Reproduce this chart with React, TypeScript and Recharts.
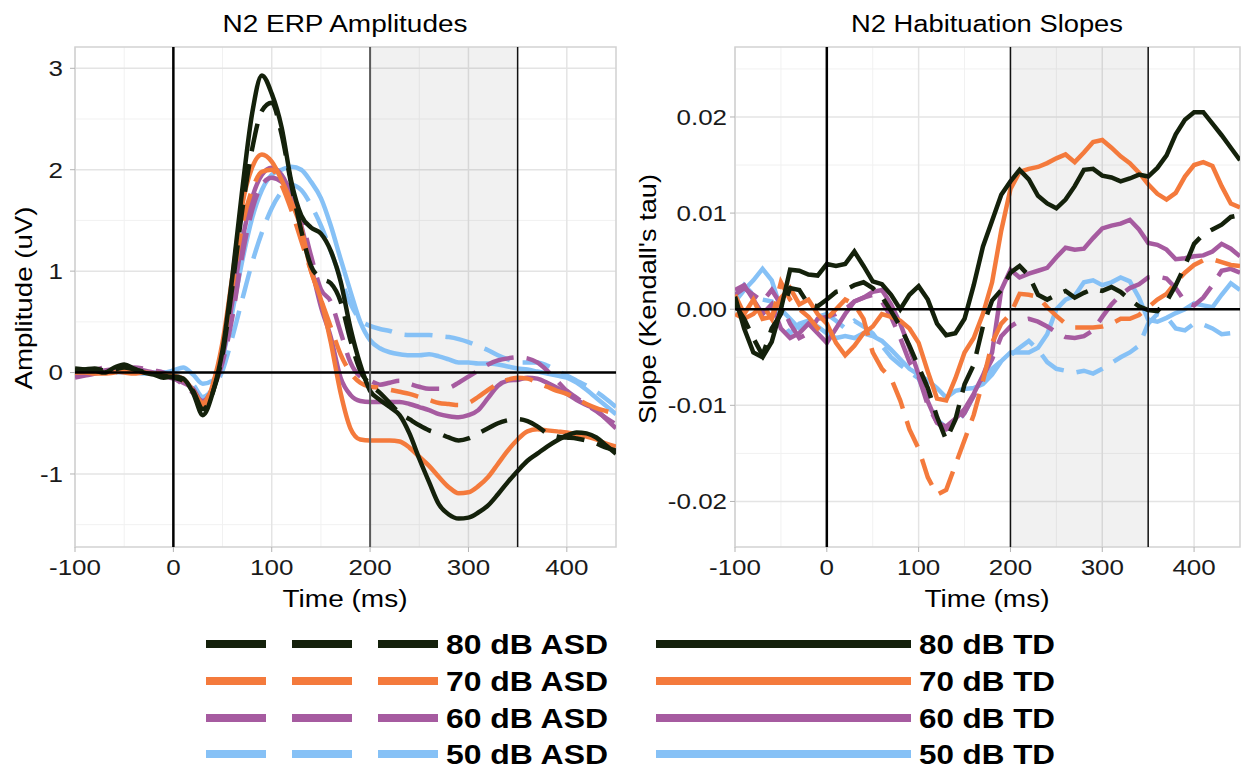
import React from 'react';
import { LineChart, Line, XAxis, YAxis, CartesianGrid, ReferenceLine, ReferenceArea } from 'recharts';

const FONT = '"Liberation Sans", Arial, sans-serif';
// glyphs in this figure run a little wider than plain Arial
const STRETCH = 1.18;

const times = [
  -100, -90, -80, -70, -60, -50, -40, -30, -20, -10,
  0, 10, 20, 30, 40, 50, 60, 70, 80, 90,
  100, 110, 120, 130, 140, 150, 160, 170, 180, 190,
  200, 210, 220, 230, 240, 250, 260, 270, 280, 290,
  300, 310, 320, 330, 340, 350, 360, 370, 380, 390,
  400, 410, 420, 430, 440, 450,
];

// ---- N2 ERP amplitudes (uV) ----
const erp80Td = [
  0.04, 0.03, 0.02, 0.0, 0.05, 0.08, 0.04, 0.0, -0.02, -0.05,
  -0.04, -0.06, -0.2, -0.42, -0.2, 0.22, 0.95, 1.8, 2.55, 2.93,
  2.75, 2.42, 1.88, 1.55, 1.43, 1.37, 1.2, 0.9, 0.44, 0.08,
  -0.18, -0.27, -0.34, -0.42, -0.6, -0.85, -1.08, -1.3, -1.4, -1.44,
  -1.43, -1.38, -1.31, -1.2, -1.08, -0.97, -0.87, -0.8, -0.73, -0.67,
  -0.62, -0.59, -0.6, -0.64, -0.72, -0.8,
];
const erp80Asd = [
  0.02, 0.03, 0.04, 0.02, 0.03, 0.05, 0.03, 0.01, -0.01, -0.03,
  -0.05, -0.08, -0.18, -0.36, -0.2, 0.18, 0.85, 1.6, 2.2, 2.58,
  2.66, 2.35, 1.85, 1.4, 1.05, 0.93, 0.88, 0.7, 0.32, 0.02,
  -0.12, -0.2, -0.3, -0.4, -0.46, -0.52, -0.57, -0.6, -0.64, -0.67,
  -0.65, -0.6, -0.55, -0.5, -0.47, -0.46, -0.48, -0.53, -0.6, -0.63,
  -0.64, -0.65, -0.67, -0.7, -0.74, -0.77,
];
const erp70Td = [
  0.0, 0.01, 0.0, -0.01, 0.0, 0.02, 0.01, 0.0, -0.01, -0.02,
  -0.03, -0.06, -0.18, -0.34, -0.12, 0.3, 0.95, 1.65, 2.02, 2.15,
  2.08, 1.9, 1.68, 1.42, 1.0, 0.72, 0.3, -0.2, -0.55, -0.66,
  -0.67, -0.67, -0.67, -0.68, -0.74, -0.83, -0.92, -1.03, -1.13, -1.19,
  -1.18, -1.12, -1.03, -0.9, -0.77, -0.66, -0.58, -0.56, -0.57, -0.58,
  -0.59, -0.61, -0.63, -0.66, -0.7, -0.73,
];
const erp70Asd = [
  0.0, 0.0, -0.01, 0.0, 0.01, 0.0, -0.01, 0.0, 0.0, -0.02,
  -0.04, -0.08, -0.18, -0.3, -0.12, 0.25, 0.85, 1.45, 1.8, 1.98,
  2.0, 1.85, 1.6, 1.3, 1.0, 0.72, 0.45, 0.18, 0.0, -0.1,
  -0.14, -0.15, -0.17, -0.19, -0.21, -0.24, -0.27, -0.3, -0.31, -0.32,
  -0.3, -0.24, -0.17, -0.11, -0.07, -0.05, -0.06, -0.1, -0.14, -0.18,
  -0.21, -0.26, -0.31, -0.35, -0.38, -0.41,
];
const erp60Td = [
  -0.05, -0.03, -0.01, 0.02, 0.03, 0.03, 0.04, 0.02, 0.0, -0.03,
  -0.06, -0.1, -0.16, -0.3, -0.15, 0.15, 0.7, 1.3, 1.72, 1.95,
  2.02, 1.95, 1.75, 1.45, 1.05, 0.65, 0.35, -0.05, -0.22, -0.28,
  -0.29, -0.29, -0.29, -0.29, -0.31, -0.34, -0.37, -0.41, -0.43, -0.44,
  -0.42, -0.37, -0.25, -0.13, -0.08, -0.07, -0.05, -0.06, -0.1, -0.15,
  -0.21, -0.27, -0.32, -0.37, -0.46, -0.55,
];
const erp60Asd = [
  -0.02, 0.0, 0.02, 0.05, 0.05, 0.04, 0.05, 0.04, 0.02, 0.0,
  -0.05, -0.12, -0.2, -0.28, -0.16, 0.1, 0.55, 1.15, 1.6, 1.85,
  1.92, 1.88, 1.75, 1.52, 1.15, 0.82, 0.7, 0.4, 0.1, -0.04,
  -0.08, -0.12, -0.1, -0.08, -0.11, -0.14, -0.16, -0.16, -0.15, -0.1,
  -0.04, 0.02, 0.08, 0.12, 0.14, 0.15, 0.14, 0.1, 0.02, -0.08,
  -0.18, -0.25, -0.32, -0.38, -0.45, -0.51,
];
const erp50Td = [
  0.02, 0.01, 0.0, 0.0, 0.01, 0.0, 0.0, -0.01, 0.0, 0.0,
  0.02, 0.05, -0.02, -0.11, -0.08, 0.15, 0.6, 1.1, 1.52, 1.8,
  1.95, 2.0, 2.03, 2.0, 1.88, 1.72, 1.45, 1.12, 0.8, 0.5,
  0.32, 0.24, 0.2, 0.18, 0.17, 0.17, 0.18, 0.16, 0.13, 0.1,
  0.1, 0.09, 0.09, 0.08, 0.06, 0.04, 0.03, 0.01, -0.01, -0.03,
  -0.05, -0.1, -0.17, -0.25, -0.33, -0.41,
];
const erp50Asd = [
  0.0, -0.01, 0.0, 0.01, 0.0, 0.01, 0.0, 0.0, 0.01, 0.0,
  -0.02, -0.06, -0.12, -0.24, -0.16, 0.02, 0.35, 0.72, 1.08, 1.38,
  1.62, 1.78, 1.85, 1.8, 1.65, 1.45, 1.2, 0.93, 0.68, 0.52,
  0.46, 0.43, 0.41, 0.38, 0.37, 0.37, 0.37, 0.36, 0.35, 0.33,
  0.3, 0.26, 0.22, 0.17, 0.13, 0.1, 0.1, 0.1, 0.07, 0.02,
  -0.03, -0.08, -0.13, -0.19, -0.26, -0.34,
];

// ---- N2 habituation slopes (Kendall's tau) ----
const slope80Td = [
  0.0013, -0.002, -0.0045, -0.005, -0.0034, 0.0, 0.0041, 0.004, 0.0036, 0.0035,
  0.0047, 0.0045, 0.0047, 0.006, 0.0045, 0.0029, 0.0026, 0.0015, 0.0, 0.0015,
  0.0024, 0.001, -0.0015, -0.0027, -0.0025, -0.001, 0.0025, 0.0065, 0.0092, 0.0119,
  0.0133, 0.0145, 0.0135, 0.0118, 0.011, 0.0105, 0.0114, 0.0128, 0.0145, 0.0146,
  0.0139, 0.0137, 0.0133, 0.0136, 0.014, 0.0138, 0.0147, 0.016, 0.0182, 0.0197,
  0.0205, 0.0205, 0.0193, 0.0181, 0.0168, 0.0155,
];
const slope80Asd = [
  0.0005, -0.001, -0.003, -0.0048, -0.002, -0.0005, 0.0022, 0.002, 0.0005, 0.0003,
  0.001, 0.0018, 0.002, 0.0025, 0.0028, 0.0022, 0.0013, -0.0002, -0.0018, -0.0038,
  -0.006, -0.0082, -0.0112, -0.0136, -0.0115, -0.0078, -0.0058, -0.0018, 0.0009, 0.002,
  0.0038, 0.0045, 0.0035, 0.0015, 0.001, 0.0015, 0.0019, 0.0012, 0.0017, 0.0021,
  0.0019, 0.0023, 0.0018, 0.001, 0.0003, -0.0001, -0.0002, 0.0008, 0.0025, 0.0045,
  0.0068, 0.0078, 0.0083, 0.0088, 0.0096, 0.0098,
];
const slope70Td = [
  0.0015, -0.0005, 0.001, -0.001, -0.0008, 0.0012, 0.0022, 0.0005, 0.001, -0.0005,
  -0.0015, -0.0035, -0.0048, -0.0038, -0.0025, -0.0018, -0.0005, -0.0008, -0.0012, -0.002,
  -0.0035, -0.0065, -0.0093, -0.0095, -0.0072, -0.0045, -0.003, -0.0005, 0.0028, 0.0082,
  0.0125, 0.0143, 0.0146, 0.0148, 0.0152, 0.0157, 0.0161, 0.0153, 0.0163, 0.0174,
  0.0176, 0.0168, 0.0159, 0.0152, 0.0142, 0.013, 0.012, 0.0114, 0.0121, 0.0138,
  0.015, 0.0153, 0.0149, 0.0128, 0.011, 0.0106,
];
const slope70Asd = [
  -0.0005, -0.001, -0.0005, 0.0005, -0.001, 0.0028, 0.001, 0.0, -0.0008, -0.002,
  -0.001, 0.0, 0.001, 0.0005, -0.001, -0.0045, -0.0062, -0.0072, -0.0095, -0.0125,
  -0.0145, -0.0175, -0.0193, -0.0188, -0.0162, -0.0136, -0.011, -0.0075, -0.0035, -0.0015,
  -0.0005, 0.0016, 0.0015, 0.0013, 0.0002, -0.0007, -0.0015, -0.0019, -0.0019, -0.0019,
  -0.0018, -0.0015, -0.001, -0.001, -0.0006, 0.0002, 0.001, 0.0016, 0.0028, 0.0038,
  0.0046, 0.0051, 0.0052, 0.0049, 0.0046, 0.0045,
];
const slope60Td = [
  0.002, 0.0025, 0.001, -0.0005, 0.0005, -0.002, -0.003, -0.0025, -0.0015, -0.0025,
  -0.0035, -0.002, -0.0005, 0.0008, 0.0012, 0.0018, 0.002, 0.0005, -0.0015, -0.004,
  -0.0068, -0.0096, -0.0118, -0.0122, -0.0114, -0.0104, -0.0088, -0.0069, -0.0045, 0.002,
  0.0041, 0.0033, 0.0037, 0.004, 0.0043, 0.0054, 0.0064, 0.0062, 0.0063, 0.0074,
  0.0084, 0.0087, 0.0089, 0.0093, 0.0083, 0.0069, 0.0067, 0.0062, 0.0052, 0.0053,
  0.0055, 0.0056, 0.006, 0.0068, 0.0063, 0.0055,
];
const slope60Asd = [
  0.0015, 0.0022, 0.0015, 0.0008, 0.002, 0.0005, -0.0015, -0.003, -0.0025, -0.001,
  -0.0008, -0.0005, 0.0, 0.0008, 0.0012, 0.0015, 0.0008, -0.0008, -0.003, -0.0055,
  -0.007, -0.01, -0.0118, -0.0125, -0.012, -0.0108, -0.009, -0.007, -0.0052, -0.0028,
  -0.0018, -0.0012, -0.001, -0.0013, -0.0018, -0.0024, -0.0029, -0.003, -0.0028, -0.0022,
  -0.0008, 0.0005, 0.0015, 0.0022, 0.0026, 0.0033, 0.0034, 0.0032, 0.0022, 0.0008,
  0.0004, 0.0012, 0.0025, 0.004, 0.0042, 0.0038,
];
const slope50Td = [
  0.0008, 0.002, 0.003, 0.0042, 0.003, 0.0, -0.001, -0.002, -0.0015, -0.0018,
  -0.0025, -0.003, -0.0028, -0.003, -0.0025, -0.0028, -0.0033, -0.0042, -0.0052, -0.0062,
  -0.0068, -0.0074, -0.0082, -0.0092, -0.0085, -0.0083, -0.0082, -0.0078, -0.0068, -0.0054,
  -0.0045, -0.0045, -0.0045, -0.004, -0.0026, 0.0, 0.001, 0.0014, 0.0028, 0.003,
  0.0025, 0.0028, 0.0033, 0.0029, 0.0012, -0.0011, -0.0013, -0.0009, -0.0004, 0.0,
  0.0006, 0.0004, 0.0002, 0.0015, 0.0027, 0.002,
];
const slope50Asd = [
  0.001, 0.0025, 0.0015, 0.001, 0.0008, -0.0012, -0.0025, -0.0015, -0.0012, -0.0008,
  -0.0005, -0.0012, -0.002, -0.0012, -0.0018, -0.0025, -0.0038, -0.005, -0.0058, -0.0065,
  -0.0072, -0.0095, -0.0115, -0.0123, -0.012, -0.0108, -0.009, -0.0075, -0.0062, -0.0054,
  -0.0048, -0.004, -0.0033, -0.0042, -0.0055, -0.0062, -0.0064, -0.0066, -0.0064, -0.0067,
  -0.0062, -0.0056, -0.005, -0.0045, -0.0038, -0.0015, -0.0005, -0.0008, -0.002, -0.0022,
  -0.0015, -0.0016, -0.002, -0.0026, -0.0025, -0.0028,
];

const levels = ['50', '60', '70', '80'];
const levelColor: Record<string, string> = {
  '80': '#14210b',
  '70': '#f47a3c',
  '60': '#a65ba0',
  '50': '#86c1f6',
};
const legendOrder = ['80', '70', '60', '50'];

const erpRows = times.map((t, i) => ({
  t,
  asd80: erp80Asd[i], td80: erp80Td[i],
  asd70: erp70Asd[i], td70: erp70Td[i],
  asd60: erp60Asd[i], td60: erp60Td[i],
  asd50: erp50Asd[i], td50: erp50Td[i],
}));
const slopeRows = times.map((t, i) => ({
  t,
  asd80: slope80Asd[i], td80: slope80Td[i],
  asd70: slope70Asd[i], td70: slope70Td[i],
  asd60: slope60Asd[i], td60: slope60Td[i],
  asd50: slope50Asd[i], td50: slope50Td[i],
}));

const xMajor = [-100, 0, 100, 200, 300, 400];
const xMinor = [-50, 50, 150, 250, 350, 450];

function XTick(props: any) {
  const { x, y, payload } = props;
  return (
    <g transform={`translate(${x},${y}) scale(${STRETCH},1)`}>
      <text textAnchor="middle" dy="0.71em" fontSize={22} fill="#1a1a1a" fontFamily={FONT}>
        {payload.value}
      </text>
    </g>
  );
}

function makeYTick(fmt: (v: number) => string) {
  return (props: any) => {
    const { x, y, payload } = props;
    return (
      <g transform={`translate(${x},${y}) scale(${STRETCH},1)`}>
        <text textAnchor="end" dy="0.355em" fontSize={22} fill="#1a1a1a" fontFamily={FONT}>
          {fmt(payload.value)}
        </text>
      </g>
    );
  };
}

interface PanelProps {
  rows: any[];
  left: number;
  width: number;
  axisWidth: number;
  right: number;
  tickGap: number;
  yDomain: [number, number];
  yMajor: number[];
  yMinor: number[];
  fmt: (v: number) => string;
  curve: 'monotone' | 'linear';
  edge200: string;
  edge200Width: number;
}

function Panel(p: PanelProps) {
  const [y0, y1] = p.yDomain;
  const series: JSX.Element[] = [];
  levels.forEach((lv) => {
    series.push(
      <Line key={'asd' + lv} dataKey={'asd' + lv} type={p.curve} stroke={levelColor[lv]} strokeWidth={4.5}
        strokeDasharray="28 13" dot={false} activeDot={false} isAnimationActive={false} />
    );
    series.push(
      <Line key={'td' + lv} dataKey={'td' + lv} type={p.curve} stroke={levelColor[lv]} strokeWidth={4.5}
        dot={false} activeDot={false} isAnimationActive={false} />
    );
  });
  return (
    <div style={{ position: 'absolute', left: p.left, top: 0 }}>
      <LineChart width={p.width} height={620} data={p.rows} margin={{ top: 47, right: p.right, bottom: 0, left: 0 }}>
        <CartesianGrid stroke="#f1f1f1" strokeWidth={1} horizontalValues={p.yMinor} verticalValues={xMinor} />
        <CartesianGrid stroke="#e4e4e4" strokeWidth={1.5} horizontalValues={p.yMajor} verticalValues={xMajor} />
        <XAxis type="number" dataKey="t" domain={[-100, 450]} ticks={xMajor} interval={0} allowDataOverflow
          axisLine={false} tickLine={{ stroke: '#b3b3b3' }} tickSize={5} tickMargin={7} height={73}
          tick={(props: any) => <XTick {...props} />} />
        <YAxis type="number" domain={[y0, y1]} ticks={p.yMajor} interval={0} allowDataOverflow width={p.axisWidth}
          axisLine={false} tickLine={{ stroke: '#b3b3b3' }} tickSize={5} tickMargin={p.tickGap}
          tick={makeYTick(p.fmt)} />
        <ReferenceArea x1={200} x2={350} y1={y0} y2={y1} fill="#000" fillOpacity={0.055} stroke="none" />
        {series}
        <ReferenceLine x={0} stroke="#000" strokeWidth={2.5} />
        <ReferenceLine y={0} stroke="#000" strokeWidth={2.5} />
        <ReferenceLine x={200} stroke={p.edge200} strokeWidth={p.edge200Width} />
        <ReferenceLine x={350} stroke="#111" strokeWidth={1.5} />
        <ReferenceArea x1={-100} x2={450} y1={y0} y2={y1} fill="none" stroke="#d2d2d2" strokeWidth={1.5} />
      </LineChart>
    </div>
  );
}

const legendRowY = [644, 681, 718, 754];

function Labels() {
  return (
    <svg width={1251} height={772} style={{ position: 'absolute', left: 0, top: 0, pointerEvents: 'none' }}>
      <g fontFamily={FONT} fill="#000">
        <text x={345} y={32} fontSize={23} textAnchor="middle" textLength={245} lengthAdjust="spacingAndGlyphs">
          N2 ERP Amplitudes
        </text>
        <text x={987} y={32} fontSize={23} textAnchor="middle" textLength={272} lengthAdjust="spacingAndGlyphs">
          N2 Habituation Slopes
        </text>
        <text x={345} y={607} fontSize={23} textAnchor="middle" textLength={125} lengthAdjust="spacingAndGlyphs">
          Time (ms)
        </text>
        <text x={987} y={607} fontSize={23} textAnchor="middle" textLength={125} lengthAdjust="spacingAndGlyphs">
          Time (ms)
        </text>
        <text transform="translate(32,298) rotate(-90)" fontSize={24} textAnchor="middle" textLength={183}
          lengthAdjust="spacingAndGlyphs">
          Amplitude (uV)
        </text>
        <text transform="translate(656,299) rotate(-90)" fontSize={24} textAnchor="middle" textLength={250}
          lengthAdjust="spacingAndGlyphs">
          Slope (Kendall's tau)
        </text>
      </g>
      {legendOrder.map((lv, i) => {
        const cy = legendRowY[i];
        return (
          <g key={lv}>
            <line x1={206} x2={438} y1={cy} y2={cy} stroke={levelColor[lv]} strokeWidth={8} strokeDasharray="60 26" />
            <text x={446} y={cy + 10} fontFamily={FONT} fontWeight="bold" fontSize={28} fill="#000"
              textLength={162} lengthAdjust="spacingAndGlyphs">
              {lv} dB ASD
            </text>
            <line x1={656} x2={911} y1={cy} y2={cy} stroke={levelColor[lv]} strokeWidth={8} />
            <text x={919} y={cy + 10} fontFamily={FONT} fontWeight="bold" fontSize={28} fill="#000"
              textLength={136} lengthAdjust="spacingAndGlyphs">
              {lv} dB TD
            </text>
          </g>
        );
      })}
    </svg>
  );
}

export default function App() {
  return (
    <div style={{ position: 'absolute', left: 0, top: 0, width: 1251, height: 772, background: '#fff' }}>
      <Panel rows={erpRows} left={0} width={630} axisWidth={75} right={14} tickGap={7}
        yDomain={[-1.72, 3.21]} yMajor={[-1, 0, 1, 2, 3]} yMinor={[-1.5, -0.5, 0.5, 1.5, 2.5]}
        fmt={(v) => String(v)} curve="monotone" edge200="#5a5a5a" edge200Width={2} />
      <Panel rows={slopeRows} left={630} width={621} axisWidth={105} right={11} tickGap={3}
        yDomain={[-0.02474, 0.02728]} yMajor={[-0.02, -0.01, 0, 0.01, 0.02]}
        yMinor={[-0.015, -0.005, 0.005, 0.015, 0.025]}
        fmt={(v) => v.toFixed(2)} curve="linear" edge200="#111" edge200Width={1.5} />
      <Labels />
    </div>
  );
}
